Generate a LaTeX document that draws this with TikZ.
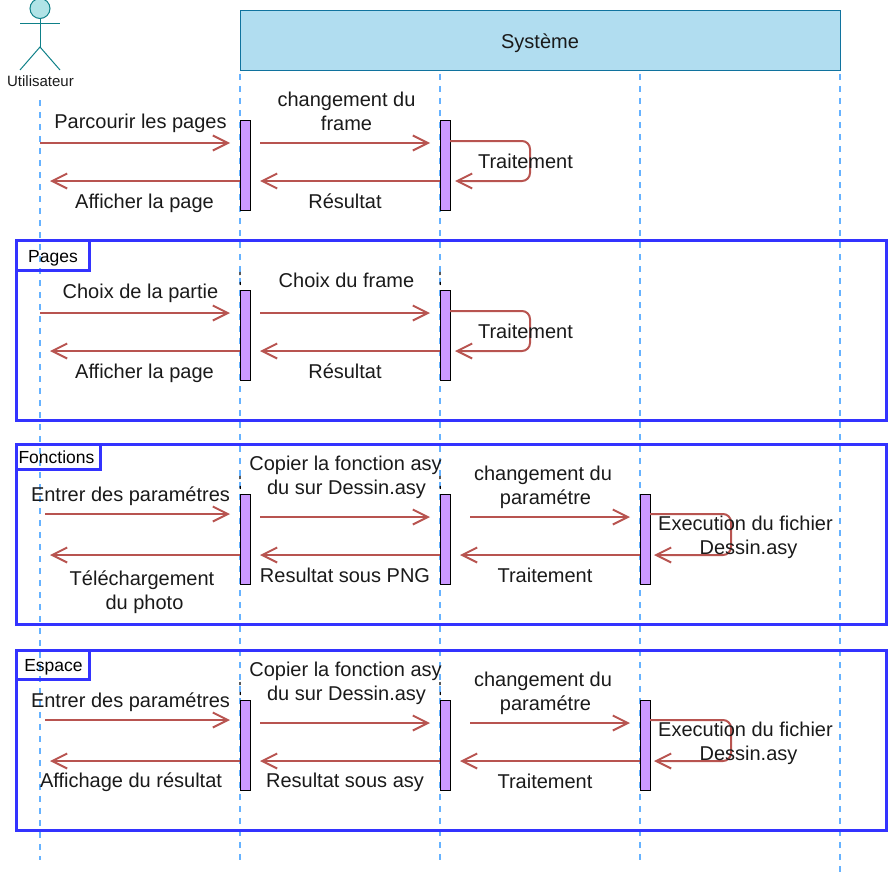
\documentclass[tikz,border=0pt]{standalone}
\usepackage{fontspec}
\setmainfont{Liberation Sans}
\usetikzlibrary{arrows.meta}
\definecolor{msg}{HTML}{B85450}
\definecolor{life}{HTML}{66B2FF}
\definecolor{frameblue}{HTML}{3333FF}
\definecolor{barfill}{HTML}{CC99FF}
\definecolor{actorfill}{HTML}{B0E3E6}
\definecolor{actorline}{HTML}{0E8088}
\definecolor{headfill}{HTML}{B1DDF0}
\definecolor{headline}{HTML}{10739E}
\definecolor{txt}{HTML}{1A1A1A}
\tikzset{
  lifeline/.style={life,line width=2pt,dash pattern=on 6pt off 6pt},
  bardots/.style={black,line width=1.2pt,dash pattern=on 3pt off 7pt},
  bar/.style={draw=black,fill=barfill,line width=1pt,minimum width=10pt,minimum height=90pt,inner sep=0pt,outer sep=0pt,anchor=north west},
  msgarrow/.style={msg,line width=2pt,-{Straight Barb[length=15pt,width=15pt,line width=2pt]}},
  loop/.style={msgarrow,rounded corners=8pt},
  lbl/.style={text=txt,font=\fontsize{20}{24}\selectfont,align=center,inner sep=0pt},
  groupframe/.style={draw=frameblue,line width=3pt,anchor=north west,inner sep=0pt,outer sep=0pt},
  grouptab/.style={groupframe,text=black,font=\fontsize{17.5}{20}\selectfont},
  actorstroke/.style={actorline,line width=1pt},
}
\begin{document}
\begin{tikzpicture}[x=1pt,y=-1pt]
\useasboundingbox (0,0) rectangle (889,875);
% lifelines
\coordinate (u0) at (40,100); \coordinate (u1) at (40,860);
\coordinate (a0) at (240,74); \coordinate (a1) at (240,860);
\coordinate (b0) at (440,74); \coordinate (b1) at (440,860);
\coordinate (c0) at (640,74); \coordinate (c1) at (640,860);
\coordinate (d0) at (840,74); \coordinate (d1) at (840,872);
\draw[lifeline] (u0) -- (u1);
\draw[lifeline] (a0) -- (a1);
\draw[lifeline] (b0) -- (b1);
\draw[lifeline] (c0) -- (c1);
\draw[lifeline] (d0) -- (d1);
% header
\node[draw=headline,fill=headfill,line width=1pt,minimum width=600pt,minimum height=60pt,anchor=north west,inner sep=0pt,outer sep=0pt,font=\fontsize{20}{24}\selectfont,text=txt] (sys) at (240,10.5) {\raisebox{-8pt}[0pt][0pt]{Système}};
% actor
\node[draw=actorline,fill=actorfill,circle,line width=1pt,minimum size=20pt,inner sep=0pt,outer sep=0pt] (head) at (40,8.5) {};
\coordinate (hip) at (40,47);
\coordinate (armL) at (20,23.5); \coordinate (armR) at (60,23.5);
\coordinate (legL) at (20,70); \coordinate (legR) at (60,70);
\draw[actorstroke] (head.south) -- (hip);
\draw[actorstroke] (armL) -- (armR);
\draw[actorstroke] (legL) -- (hip) -- (legR);
\node[text=txt,font=\fontsize{15}{16}\selectfont,inner sep=0pt] (actorlabel) at (40.5,81) {Utilisateur};
% bars
\node[bar] (A1) at (240.5,120.5) {}; \node[bar] (B1) at (440.5,120.5) {};
\node[bar] (A2) at (240.5,290.5) {}; \node[bar] (B2) at (440.5,290.5) {};
\node[bar] (A3) at (240.5,494.5) {}; \node[bar] (B3) at (440.5,494.5) {}; \node[bar] (C3) at (640.5,494.5) {};
\node[bar] (A4) at (240.5,700.5) {}; \node[bar] (B4) at (440.5,700.5) {}; \node[bar] (C4) at (640.5,700.5) {};
\coordinate (A2t) at (240,272); \coordinate (B2t) at (440,272);
\coordinate (A3t) at (240,476); \coordinate (B3t) at (440,476);
\coordinate (A4t) at (240,682); \coordinate (B4t) at (440,682);
\draw[bardots] (A2t) -- (A2.north west); \draw[bardots] (B2t) -- (B2.north west);
\draw[bardots] (A3t) -- (A3.north west); \draw[bardots] (B3t) -- (B3.north west);
\draw[bardots] (A4t) -- (A4.north west); \draw[bardots] (B4t) -- (B4.north west);
% row 1
\coordinate (r1a) at (40,143); \coordinate (r1b) at (230,143);
\coordinate (r1c) at (260,143); \coordinate (r1d) at (430,143);
\coordinate (r1e) at (240,181); \coordinate (r1f) at (50,181);
\coordinate (r1g) at (440,181); \coordinate (r1h) at (260,181);
\coordinate (r1i) at (450,141); \coordinate (r1j) at (455,181);
\draw[msgarrow] (r1a) -- (r1b); \draw[msgarrow] (r1c) -- (r1d);
\draw[msgarrow] (r1e) -- (r1f); \draw[msgarrow] (r1g) -- (r1h);
\draw[loop] (r1i) -- (530,141) -- (530,181) -- (r1j);
\node[lbl] (t1a) at (140.5,123) {Parcourir les pages};
\node[lbl] (t1b) at (346.5,111) {changement du\\frame};
\node[lbl] (t1c) at (525.5,161) {Traitement};
\node[lbl] (t1d) at (144.5,203) {Afficher la page};
\node[lbl] (t1e) at (345,201) {Résultat};
% row 2
\coordinate (r2a) at (40,313); \coordinate (r2b) at (230,313);
\coordinate (r2c) at (260,313); \coordinate (r2d) at (430,313);
\coordinate (r2e) at (240,351); \coordinate (r2f) at (50,351);
\coordinate (r2g) at (440,351); \coordinate (r2h) at (260,351);
\coordinate (r2i) at (450,311); \coordinate (r2j) at (455,351);
\draw[msgarrow] (r2a) -- (r2b); \draw[msgarrow] (r2c) -- (r2d);
\draw[msgarrow] (r2e) -- (r2f); \draw[msgarrow] (r2g) -- (r2h);
\draw[loop] (r2i) -- (530,311) -- (530,351) -- (r2j);
\node[lbl] (t2a) at (140.5,293) {Choix de la partie};
\node[lbl] (t2b) at (346.5,280) {Choix du frame};
\node[lbl] (t2c) at (525.5,331) {Traitement};
\node[lbl] (t2d) at (144.5,373) {Afficher la page};
\node[lbl] (t2e) at (345,371) {Résultat};
% row 3
\coordinate (r3a) at (45,514); \coordinate (r3b) at (230,514);
\coordinate (r3c) at (260,517); \coordinate (r3d) at (430,517);
\coordinate (r3k) at (470,517); \coordinate (r3l) at (630,517);
\coordinate (r3e) at (240,555); \coordinate (r3f) at (50,555);
\coordinate (r3g) at (440,555); \coordinate (r3h) at (260,555);
\coordinate (r3m) at (640,555); \coordinate (r3n) at (460,555);
\coordinate (r3i) at (650,514); \coordinate (r3j) at (654,555);
\draw[msgarrow] (r3a) -- (r3b); \draw[msgarrow] (r3c) -- (r3d); \draw[msgarrow] (r3k) -- (r3l);
\draw[msgarrow] (r3e) -- (r3f); \draw[msgarrow] (r3g) -- (r3h); \draw[msgarrow] (r3m) -- (r3n);
\draw[loop] (r3i) -- (731,514) -- (731,555) -- (r3j);
\node[lbl] (t3a) at (130.5,496) {Entrer des paramétres};
\node[lbl] (t3b) at (345.5,477) {Copier la fonction asy\\\hspace*{2pt}du sur Dessin.asy};
\node[lbl] (t3c) at (543,487) {changement du\\\hspace*{5pt}paramétre};
\node[lbl] (t3d) at (745.5,537) {Execution du fichier\\\hspace*{6pt}Dessin.asy};
\node[lbl] (t3e) at (142,592) {Téléchargement\\\hspace*{5pt}du photo};
\node[lbl] (t3f) at (345,575) {Resultat sous PNG};
\node[lbl] (t3g) at (545,575) {Traitement};
% row 4
\coordinate (r4a) at (45,720); \coordinate (r4b) at (230,720);
\coordinate (r4c) at (260,723); \coordinate (r4d) at (430,723);
\coordinate (r4k) at (470,723); \coordinate (r4l) at (630,723);
\coordinate (r4e) at (240,761); \coordinate (r4f) at (50,761);
\coordinate (r4g) at (440,761); \coordinate (r4h) at (260,761);
\coordinate (r4m) at (640,761); \coordinate (r4n) at (460,761);
\coordinate (r4i) at (650,720); \coordinate (r4j) at (654,761);
\draw[msgarrow] (r4a) -- (r4b); \draw[msgarrow] (r4c) -- (r4d); \draw[msgarrow] (r4k) -- (r4l);
\draw[msgarrow] (r4e) -- (r4f); \draw[msgarrow] (r4g) -- (r4h); \draw[msgarrow] (r4m) -- (r4n);
\draw[loop] (r4i) -- (731,720) -- (731,761) -- (r4j);
\node[lbl] (t4a) at (130.5,702) {Entrer des paramétres};
\node[lbl] (t4b) at (345.5,683) {Copier la fonction asy\\\hspace*{2pt}du sur Dessin.asy};
\node[lbl] (t4c) at (543,693) {changement du\\\hspace*{5pt}paramétre};
\node[lbl] (t4d) at (745.5,743) {Execution du fichier\\\hspace*{6pt}Dessin.asy};
\node[lbl] (t4e) at (131,782) {Affichage du résultat};
\node[lbl] (t4f) at (345,782) {Resultat sous asy};
\node[lbl] (t4g) at (545,781) {Traitement};
% group frames
\node[groupframe,minimum width=870pt,minimum height=180pt] (gPages) at (16.5,240.5) {};
\node[groupframe,minimum width=870pt,minimum height=180pt] (gFonctions) at (16.5,444.5) {};
\node[groupframe,minimum width=870pt,minimum height=180pt] (gEspace) at (16.5,650.5) {};
\node[grouptab,minimum width=73pt,minimum height=30pt] (tPages) at (16.5,240.5) {\raisebox{-6.5pt}[0pt][0pt]{Pages}};
\node[grouptab,minimum width=84pt,minimum height=25pt] (tFonctions) at (16.5,444.5) {\makebox[80pt][l]{Fonctions}};
\node[grouptab,minimum width=73pt,minimum height=29pt] (tEspace) at (16.5,650.5) {\raisebox{-6.5pt}[0pt][0pt]{\hspace{1pt}Espace}};
\end{tikzpicture}
\end{document}
